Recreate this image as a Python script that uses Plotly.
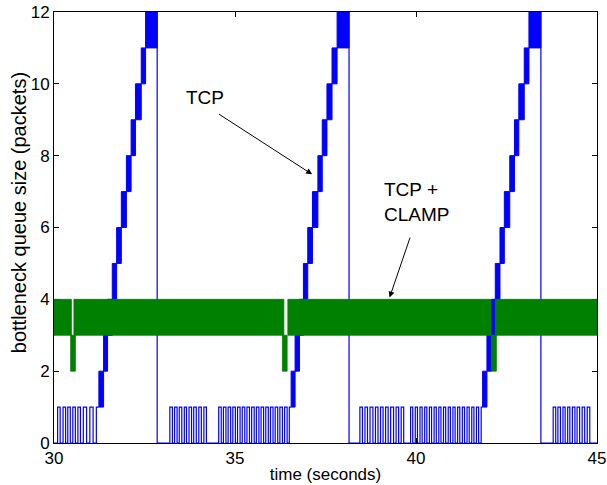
import plotly.graph_objects as go

# ---------------- data ----------------
# TCP (blue): start time of each one-packet oscillation band (levels 1..11), last value = drop time
ramp_levels = [1, 2, 3, 4, 5, 6, 7, 8, 9, 10, 11]
ramp1 = [31.24, 31.37, 31.48, 31.61, 31.73, 31.86, 32.00, 32.13, 32.25, 32.41, 32.53, 32.85]
ramp2 = [36.55, 36.66, 36.78, 36.89, 37.01, 37.14, 37.29, 37.41, 37.54, 37.68, 37.82, 38.15]
ramp3 = [41.84, 41.96, 42.08, 42.19, 42.32, 42.44, 42.59, 42.72, 42.84, 42.99, 43.12, 43.45]
ramp_peak = 13  # queue peaks above the visible range

# TCP (blue): toggle times between 0 and 1 packets in the low phases
toggles_a = [30.10, 30.17, 30.25, 30.32, 30.38, 30.45, 30.52, 30.59, 30.66, 30.73,
             30.81, 30.90, 30.99, 31.08, 31.17]
toggles_b1 = [33.20, 33.27, 33.33, 33.40, 33.46, 33.53, 33.60, 33.66, 33.73, 33.80,
              33.86, 33.93, 34.00, 34.07, 34.14, 34.21]
toggles_b2 = [34.55, 34.62, 34.68, 34.75, 34.81, 34.88, 34.94, 35.01, 35.07, 35.14,
              35.20, 35.27, 35.33, 35.40, 35.46, 35.53, 35.59, 35.66, 35.72, 35.79,
              35.85, 35.92, 35.98, 36.05, 36.11, 36.18, 36.24, 36.31, 36.37, 36.44, 36.50]
toggles_c1 = [38.45, 38.52, 38.59, 38.66, 38.73, 38.81, 38.88, 38.95, 39.02, 39.09,
              39.16, 39.23, 39.30, 39.38, 39.45, 39.52, 39.59, 39.66]
toggles_c2 = [39.85, 39.91, 39.98, 40.04, 40.11, 40.17, 40.24, 40.30, 40.37, 40.43,
              40.50, 40.56, 40.63, 40.69, 40.76, 40.82, 40.89, 40.95, 41.02, 41.08,
              41.15, 41.21, 41.28, 41.34, 41.41, 41.47, 41.54, 41.60, 41.67, 41.73, 41.80]
toggles_d = [43.79, 43.86, 43.92, 43.99, 44.06, 44.12, 44.19, 44.25, 44.32, 44.39,
             44.45, 44.52, 44.59, 44.66, 44.73, 44.80]

# TCP + CLAMP (green): oscillation bands (start, end, low, high)
green_start = [30.00, 30.46, 30.55, 36.31, 36.46, 42.08, 42.19]
green_end   = [30.48, 30.59, 36.35, 36.44, 42.07, 42.22, 45.00]
green_low   = [3, 2, 3, 2, 3, 2, 3]
green_high  = [4, 3, 4, 3, 4, 3, 4]

x_ticks = [30, 35, 40, 45]
y_ticks = [0, 2, 4, 6, 8, 10, 12]

BLUE = "rgb(0,0,255)"
GREEN = "rgb(0,128,0)"


def rects(starts, ends, lows, highs):
    xs, ys = [], []
    for s, e, lo, hi in zip(starts, ends, lows, highs):
        xs += [s, e, e, s, s, None]
        ys += [lo, lo, hi, hi, lo, None]
    return xs, ys


def toggle_path(t0, level0, toggles, t_end):
    xs, ys = [t0], [level0]
    cur = 0
    if level0 != 0:
        xs.append(t0)
        ys.append(0)
    for t in toggles:
        xs += [t, t]
        ys += [cur, 1 - cur]
        cur = 1 - cur
    xs.append(t_end)
    ys.append(cur)
    xs.append(None)
    ys.append(None)
    return xs, ys


# blue oscillation bars of the ramps
bx, by = [], []
for ramp in (ramp1, ramp2, ramp3):
    starts = ramp[:-1]
    ends = ramp[1:]
    lows = ramp_levels
    highs = [lv + 1 for lv in ramp_levels[:-1]] + [ramp_peak]
    xs, ys = rects(starts, ends, lows, highs)
    bx += xs
    by += ys

# blue low phases (with the drops)
lx, ly = [], []
for seg in (
    toggle_path(30.0, 0, toggles_a, ramp1[0]),
    toggle_path(ramp1[-1], ramp_peak, toggles_b1 + toggles_b2, ramp2[0]),
    toggle_path(ramp2[-1], ramp_peak, toggles_c1 + toggles_c2, ramp3[0]),
    toggle_path(ramp3[-1], ramp_peak, toggles_d, 45.0),
):
    lx += seg[0]
    ly += seg[1]

gx, gy = rects(green_start, green_end, green_low, green_high)

fig = go.Figure()
fig.add_trace(go.Scatter(x=lx, y=ly, mode="lines", line=dict(color=BLUE, width=1.2),
                         hoverinfo="skip", showlegend=False))
fig.add_trace(go.Scatter(x=bx, y=by, mode="lines", fill="toself", fillcolor=BLUE,
                         line=dict(color=BLUE, width=1), hoverinfo="skip", showlegend=False))
fig.add_trace(go.Scatter(x=gx, y=gy, mode="lines", fill="toself", fillcolor=GREEN,
                         line=dict(color=GREEN, width=0.8), hoverinfo="skip", showlegend=False))

FONT = "Liberation Sans, Arial, sans-serif"

fig.add_annotation(x=34.18, y=9.62, text="TCP", showarrow=False,
                   font=dict(family=FONT, size=19, color="black"))
fig.add_annotation(x=37.13, y=7.48, ax=34.52, ay=9.18, axref="x", ayref="y",
                   text="", showarrow=True, arrowhead=2, arrowsize=1.2, arrowwidth=1,
                   arrowcolor="black")
fig.add_annotation(x=39.05, y=6.71, text="TCP +<br>CLAMP", showarrow=False,
                   xanchor="left", align="left",
                   font=dict(family=FONT, size=19, color="black"))
fig.add_annotation(x=39.27, y=4.05, ax=39.85, ay=5.76, axref="x", ayref="y",
                   text="", showarrow=True, arrowhead=2, arrowsize=1.2, arrowwidth=1,
                   arrowcolor="black")

# y-axis title (placed as a rotated label, slightly above the axis centre as in the reference)
fig.add_annotation(xref="paper", yref="paper", x=-0.063, y=0.535,
                   xanchor="center", yanchor="middle", textangle=-90, showarrow=False,
                   text="bottleneck queue size (packets)",
                   font=dict(family=FONT, size=20, color="black"))

axis_common = dict(showgrid=False, zeroline=False, showline=True, linecolor="black",
                   linewidth=1, mirror="ticks", ticks="inside", ticklen=5,
                   tickcolor="black", layer="below traces", automargin=False,
                   tickfont=dict(family=FONT, size=17, color="black"))

fig.update_xaxes(range=[30, 45], tickvals=x_ticks, ticktext=[str(v) for v in x_ticks],
                 title=dict(text="time (seconds)", standoff=0,
                            font=dict(family=FONT, size=17, color="black")),
                 **axis_common)
fig.update_yaxes(range=[0, 12], tickvals=y_ticks, ticktext=[str(v) for v in y_ticks],
                 **axis_common)

fig.update_layout(width=607, height=485, margin=dict(l=54, r=10, t=12, b=42),
                  plot_bgcolor="white", paper_bgcolor="white", showlegend=False)

# remove the browser's default 8 px page margin so the figure sits at the window's corner
fig.write_html("out.html", config={"displayModeBar": False},
               post_script="document.body.style.margin='0';")
